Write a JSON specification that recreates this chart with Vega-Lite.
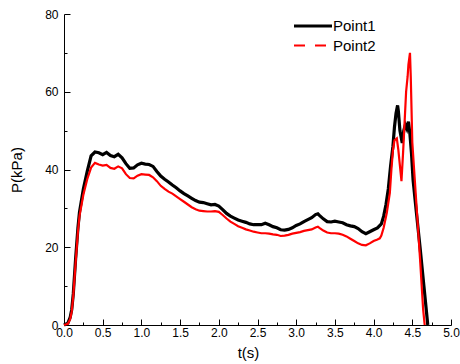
{
  "$schema": "https://vega.github.io/schema/vega-lite/v6.json",
  "width": 387,
  "height": 311,
  "autosize": {"type": "none"},
  "padding": {"left": 64, "top": 14, "right": 9, "bottom": 39},
  "background": "white",
  "config": {
    "view": {"stroke": null},
    "font": "Liberation Sans",
    "axis": {
      "grid": false,
      "labelFlush": false,
      "domainColor": "black",
      "tickColor": "black",
      "labelColor": "black",
      "titleColor": "black",
      "labelFont": "Liberation Sans",
      "titleFont": "Liberation Sans",
      "labelFontSize": 12,
      "titleFontSize": 15,
      "titleFontWeight": "normal",
      "domainWidth": 1,
      "tickWidth": 1
    }
  },
  "data": {
    "values": [
      {"t": 0.00, "p": 0, "s": "Point1"},
      {"t": 0.05, "p": 0.5, "s": "Point1"},
      {"t": 0.08, "p": 2, "s": "Point1"},
      {"t": 0.10, "p": 4, "s": "Point1"},
      {"t": 0.12, "p": 8, "s": "Point1"},
      {"t": 0.15, "p": 17, "s": "Point1"},
      {"t": 0.18, "p": 25, "s": "Point1"},
      {"t": 0.20, "p": 29, "s": "Point1"},
      {"t": 0.25, "p": 35, "s": "Point1"},
      {"t": 0.30, "p": 39.5, "s": "Point1"},
      {"t": 0.35, "p": 43.5, "s": "Point1"},
      {"t": 0.40, "p": 44.5, "s": "Point1"},
      {"t": 0.45, "p": 44.3, "s": "Point1"},
      {"t": 0.50, "p": 43.8, "s": "Point1"},
      {"t": 0.55, "p": 44.4, "s": "Point1"},
      {"t": 0.60, "p": 43.6, "s": "Point1"},
      {"t": 0.65, "p": 43.3, "s": "Point1"},
      {"t": 0.70, "p": 43.9, "s": "Point1"},
      {"t": 0.75, "p": 43, "s": "Point1"},
      {"t": 0.80, "p": 41.5, "s": "Point1"},
      {"t": 0.85, "p": 40.3, "s": "Point1"},
      {"t": 0.90, "p": 40.4, "s": "Point1"},
      {"t": 0.95, "p": 41.2, "s": "Point1"},
      {"t": 1.00, "p": 41.6, "s": "Point1"},
      {"t": 1.05, "p": 41.4, "s": "Point1"},
      {"t": 1.10, "p": 41.3, "s": "Point1"},
      {"t": 1.15, "p": 40.8, "s": "Point1"},
      {"t": 1.20, "p": 39.5, "s": "Point1"},
      {"t": 1.25, "p": 38.3, "s": "Point1"},
      {"t": 1.30, "p": 37.5, "s": "Point1"},
      {"t": 1.35, "p": 36.8, "s": "Point1"},
      {"t": 1.40, "p": 36, "s": "Point1"},
      {"t": 1.45, "p": 35.3, "s": "Point1"},
      {"t": 1.50, "p": 34.5, "s": "Point1"},
      {"t": 1.55, "p": 33.8, "s": "Point1"},
      {"t": 1.60, "p": 33.2, "s": "Point1"},
      {"t": 1.65, "p": 32.6, "s": "Point1"},
      {"t": 1.70, "p": 32, "s": "Point1"},
      {"t": 1.75, "p": 31.6, "s": "Point1"},
      {"t": 1.80, "p": 31.5, "s": "Point1"},
      {"t": 1.85, "p": 31.2, "s": "Point1"},
      {"t": 1.90, "p": 30.9, "s": "Point1"},
      {"t": 1.95, "p": 31, "s": "Point1"},
      {"t": 2.00, "p": 30.6, "s": "Point1"},
      {"t": 2.05, "p": 29.7, "s": "Point1"},
      {"t": 2.10, "p": 28.7, "s": "Point1"},
      {"t": 2.15, "p": 28, "s": "Point1"},
      {"t": 2.20, "p": 27.5, "s": "Point1"},
      {"t": 2.25, "p": 27, "s": "Point1"},
      {"t": 2.30, "p": 26.7, "s": "Point1"},
      {"t": 2.35, "p": 26.4, "s": "Point1"},
      {"t": 2.40, "p": 26, "s": "Point1"},
      {"t": 2.45, "p": 25.8, "s": "Point1"},
      {"t": 2.50, "p": 25.8, "s": "Point1"},
      {"t": 2.55, "p": 25.8, "s": "Point1"},
      {"t": 2.60, "p": 26.2, "s": "Point1"},
      {"t": 2.65, "p": 25.8, "s": "Point1"},
      {"t": 2.70, "p": 25.3, "s": "Point1"},
      {"t": 2.75, "p": 25, "s": "Point1"},
      {"t": 2.80, "p": 24.5, "s": "Point1"},
      {"t": 2.85, "p": 24.4, "s": "Point1"},
      {"t": 2.90, "p": 24.6, "s": "Point1"},
      {"t": 2.95, "p": 25, "s": "Point1"},
      {"t": 3.00, "p": 25.6, "s": "Point1"},
      {"t": 3.05, "p": 26, "s": "Point1"},
      {"t": 3.10, "p": 26.6, "s": "Point1"},
      {"t": 3.15, "p": 27.1, "s": "Point1"},
      {"t": 3.20, "p": 27.6, "s": "Point1"},
      {"t": 3.25, "p": 28.4, "s": "Point1"},
      {"t": 3.28, "p": 28.6, "s": "Point1"},
      {"t": 3.30, "p": 28.2, "s": "Point1"},
      {"t": 3.35, "p": 27.3, "s": "Point1"},
      {"t": 3.40, "p": 26.6, "s": "Point1"},
      {"t": 3.45, "p": 26.5, "s": "Point1"},
      {"t": 3.50, "p": 26.7, "s": "Point1"},
      {"t": 3.55, "p": 26.5, "s": "Point1"},
      {"t": 3.60, "p": 26.3, "s": "Point1"},
      {"t": 3.65, "p": 25.8, "s": "Point1"},
      {"t": 3.70, "p": 25.5, "s": "Point1"},
      {"t": 3.75, "p": 25.3, "s": "Point1"},
      {"t": 3.80, "p": 24.8, "s": "Point1"},
      {"t": 3.85, "p": 24.0, "s": "Point1"},
      {"t": 3.90, "p": 23.5, "s": "Point1"},
      {"t": 3.95, "p": 24, "s": "Point1"},
      {"t": 4.00, "p": 24.5, "s": "Point1"},
      {"t": 4.05, "p": 25, "s": "Point1"},
      {"t": 4.10, "p": 26, "s": "Point1"},
      {"t": 4.13, "p": 28, "s": "Point1"},
      {"t": 4.16, "p": 31, "s": "Point1"},
      {"t": 4.19, "p": 35, "s": "Point1"},
      {"t": 4.22, "p": 41, "s": "Point1"},
      {"t": 4.25, "p": 46, "s": "Point1"},
      {"t": 4.27, "p": 51, "s": "Point1"},
      {"t": 4.29, "p": 54.5, "s": "Point1"},
      {"t": 4.31, "p": 56.5, "s": "Point1"},
      {"t": 4.32, "p": 55, "s": "Point1"},
      {"t": 4.34, "p": 50, "s": "Point1"},
      {"t": 4.37, "p": 46.8, "s": "Point1"},
      {"t": 4.39, "p": 50, "s": "Point1"},
      {"t": 4.41, "p": 51.5, "s": "Point1"},
      {"t": 4.43, "p": 50.5, "s": "Point1"},
      {"t": 4.45, "p": 52.3, "s": "Point1"},
      {"t": 4.47, "p": 49, "s": "Point1"},
      {"t": 4.49, "p": 44, "s": "Point1"},
      {"t": 4.51, "p": 37.3, "s": "Point1"},
      {"t": 4.55, "p": 29.5, "s": "Point1"},
      {"t": 4.60, "p": 20, "s": "Point1"},
      {"t": 4.65, "p": 10, "s": "Point1"},
      {"t": 4.70, "p": 0, "s": "Point1"},

      {"t": 0.00, "p": 0, "s": "Point2"},
      {"t": 0.05, "p": 0.3, "s": "Point2"},
      {"t": 0.08, "p": 1.5, "s": "Point2"},
      {"t": 0.10, "p": 3.5, "s": "Point2"},
      {"t": 0.12, "p": 7.5, "s": "Point2"},
      {"t": 0.15, "p": 16, "s": "Point2"},
      {"t": 0.18, "p": 24, "s": "Point2"},
      {"t": 0.20, "p": 28, "s": "Point2"},
      {"t": 0.25, "p": 33.5, "s": "Point2"},
      {"t": 0.30, "p": 37.5, "s": "Point2"},
      {"t": 0.35, "p": 40.5, "s": "Point2"},
      {"t": 0.40, "p": 41.7, "s": "Point2"},
      {"t": 0.45, "p": 41.3, "s": "Point2"},
      {"t": 0.50, "p": 41, "s": "Point2"},
      {"t": 0.55, "p": 41.2, "s": "Point2"},
      {"t": 0.60, "p": 40.4, "s": "Point2"},
      {"t": 0.65, "p": 40.2, "s": "Point2"},
      {"t": 0.70, "p": 40.8, "s": "Point2"},
      {"t": 0.75, "p": 40.3, "s": "Point2"},
      {"t": 0.80, "p": 38.8, "s": "Point2"},
      {"t": 0.85, "p": 37.8, "s": "Point2"},
      {"t": 0.90, "p": 37.7, "s": "Point2"},
      {"t": 0.95, "p": 38.4, "s": "Point2"},
      {"t": 1.00, "p": 38.8, "s": "Point2"},
      {"t": 1.05, "p": 38.7, "s": "Point2"},
      {"t": 1.10, "p": 38.6, "s": "Point2"},
      {"t": 1.15, "p": 38, "s": "Point2"},
      {"t": 1.20, "p": 37, "s": "Point2"},
      {"t": 1.25, "p": 35.8, "s": "Point2"},
      {"t": 1.30, "p": 35, "s": "Point2"},
      {"t": 1.35, "p": 34.3, "s": "Point2"},
      {"t": 1.40, "p": 33.8, "s": "Point2"},
      {"t": 1.45, "p": 33.1, "s": "Point2"},
      {"t": 1.50, "p": 32.4, "s": "Point2"},
      {"t": 1.55, "p": 31.7, "s": "Point2"},
      {"t": 1.60, "p": 31, "s": "Point2"},
      {"t": 1.65, "p": 30.3, "s": "Point2"},
      {"t": 1.70, "p": 29.8, "s": "Point2"},
      {"t": 1.75, "p": 29.4, "s": "Point2"},
      {"t": 1.80, "p": 29.3, "s": "Point2"},
      {"t": 1.85, "p": 29.2, "s": "Point2"},
      {"t": 1.90, "p": 29.2, "s": "Point2"},
      {"t": 1.95, "p": 29.3, "s": "Point2"},
      {"t": 2.00, "p": 29.1, "s": "Point2"},
      {"t": 2.05, "p": 28.3, "s": "Point2"},
      {"t": 2.10, "p": 27.4, "s": "Point2"},
      {"t": 2.15, "p": 26.6, "s": "Point2"},
      {"t": 2.20, "p": 26, "s": "Point2"},
      {"t": 2.25, "p": 25.4, "s": "Point2"},
      {"t": 2.30, "p": 25, "s": "Point2"},
      {"t": 2.35, "p": 24.6, "s": "Point2"},
      {"t": 2.40, "p": 24.3, "s": "Point2"},
      {"t": 2.45, "p": 24, "s": "Point2"},
      {"t": 2.50, "p": 23.8, "s": "Point2"},
      {"t": 2.55, "p": 23.6, "s": "Point2"},
      {"t": 2.60, "p": 23.6, "s": "Point2"},
      {"t": 2.65, "p": 23.5, "s": "Point2"},
      {"t": 2.70, "p": 23.3, "s": "Point2"},
      {"t": 2.75, "p": 23.2, "s": "Point2"},
      {"t": 2.80, "p": 22.9, "s": "Point2"},
      {"t": 2.85, "p": 23, "s": "Point2"},
      {"t": 2.90, "p": 23.2, "s": "Point2"},
      {"t": 2.95, "p": 23.5, "s": "Point2"},
      {"t": 3.00, "p": 23.7, "s": "Point2"},
      {"t": 3.05, "p": 23.9, "s": "Point2"},
      {"t": 3.10, "p": 24.2, "s": "Point2"},
      {"t": 3.15, "p": 24.4, "s": "Point2"},
      {"t": 3.20, "p": 24.6, "s": "Point2"},
      {"t": 3.25, "p": 25.1, "s": "Point2"},
      {"t": 3.28, "p": 25.3, "s": "Point2"},
      {"t": 3.30, "p": 25, "s": "Point2"},
      {"t": 3.35, "p": 24.3, "s": "Point2"},
      {"t": 3.40, "p": 23.8, "s": "Point2"},
      {"t": 3.45, "p": 23.6, "s": "Point2"},
      {"t": 3.50, "p": 23.6, "s": "Point2"},
      {"t": 3.55, "p": 23.5, "s": "Point2"},
      {"t": 3.60, "p": 23.2, "s": "Point2"},
      {"t": 3.65, "p": 22.8, "s": "Point2"},
      {"t": 3.70, "p": 22.2, "s": "Point2"},
      {"t": 3.75, "p": 21.6, "s": "Point2"},
      {"t": 3.80, "p": 21, "s": "Point2"},
      {"t": 3.85, "p": 20.6, "s": "Point2"},
      {"t": 3.90, "p": 20.5, "s": "Point2"},
      {"t": 3.95, "p": 21, "s": "Point2"},
      {"t": 4.00, "p": 21.6, "s": "Point2"},
      {"t": 4.05, "p": 22, "s": "Point2"},
      {"t": 4.08, "p": 22.3, "s": "Point2"},
      {"t": 4.10, "p": 23, "s": "Point2"},
      {"t": 4.13, "p": 25, "s": "Point2"},
      {"t": 4.17, "p": 28.8, "s": "Point2"},
      {"t": 4.21, "p": 34, "s": "Point2"},
      {"t": 4.23, "p": 40, "s": "Point2"},
      {"t": 4.25, "p": 45, "s": "Point2"},
      {"t": 4.27, "p": 47.5, "s": "Point2"},
      {"t": 4.30, "p": 48, "s": "Point2"},
      {"t": 4.32, "p": 45, "s": "Point2"},
      {"t": 4.34, "p": 41, "s": "Point2"},
      {"t": 4.36, "p": 37, "s": "Point2"},
      {"t": 4.38, "p": 44, "s": "Point2"},
      {"t": 4.40, "p": 52, "s": "Point2"},
      {"t": 4.42, "p": 60, "s": "Point2"},
      {"t": 4.44, "p": 64, "s": "Point2"},
      {"t": 4.45, "p": 67, "s": "Point2"},
      {"t": 4.47, "p": 70, "s": "Point2"},
      {"t": 4.48, "p": 64, "s": "Point2"},
      {"t": 4.50, "p": 47, "s": "Point2"},
      {"t": 4.53, "p": 38, "s": "Point2"},
      {"t": 4.56, "p": 29, "s": "Point2"},
      {"t": 4.60, "p": 17, "s": "Point2"},
      {"t": 4.64, "p": 4, "s": "Point2"},
      {"t": 4.66, "p": 0, "s": "Point2"}
    ]
  },
  "layer": [
    {
      "mark": {"type": "point", "opacity": 0},
      "encoding": {
        "x": {
          "field": "t", "type": "quantitative",
          "scale": {"domain": [0, 5], "nice": false, "zero": false},
          "axis": {"orient": "bottom", "values": [0.25, 0.75, 1.25, 1.75, 2.25, 2.75, 3.25, 3.75, 4.25, 4.75], "labels": false, "domain": false, "tickSize": -3, "title": null}
        },
        "y": {
          "field": "p", "type": "quantitative",
          "scale": {"domain": [0, 80], "nice": false},
          "axis": {"orient": "left", "values": [10, 30, 50, 70], "labels": false, "domain": false, "tickSize": -3, "title": null}
        }
      }
    },
    {
      "mark": {"type": "line", "interpolate": "linear"},
      "encoding": {
        "x": {
          "field": "t", "type": "quantitative",
          "axis": {"orient": "bottom", "values": [0, 0.5, 1, 1.5, 2, 2.5, 3, 3.5, 4, 4.5, 5], "format": ".1f", "tickSize": -6, "labelPadding": 8, "labelFlush": false, "title": "t(s)", "titleX": 184, "titlePadding": 7}
        },
        "y": {
          "field": "p", "type": "quantitative",
          "axis": {"orient": "left", "values": [0, 20, 40, 60, 80], "tickSize": -6, "labelPadding": 12, "labelFlush": false, "title": "P(kPa)", "titlePadding": 20}
        },
        "color": {
          "field": "s", "type": "nominal",
          "scale": {"domain": ["Point1", "Point2"], "range": ["#000000", "#ff0000"]},
          "legend": {
            "title": null,
            "orient": "none",
            "legendX": 237.5,
            "legendY": 0.5,
            "padding": 0,
            "rowPadding": 0,
            "symbolType": "M-2,0H2",
            "symbolSize": 361,
            "symbolStrokeWidth": 2.5,
            "labelFontSize": 15,
            "labelFont": "Liberation Sans",
            "labelColor": "black",
            "labelOffset": 8.5,
            "encode": {
              "symbols": {"update": {"strokeDash": {"signal": "datum.label === 'Point2' ? [11, 10] : [1, 0]"}}}
            }
          }
        },
        "strokeWidth": {
          "field": "s", "type": "nominal",
          "scale": {"domain": ["Point1", "Point2"], "range": [3.2, 2.2]},
          "legend": null
        }
      }
    }
  ],
  "resolve": {"axis": {"x": "independent", "y": "independent"}}
}
